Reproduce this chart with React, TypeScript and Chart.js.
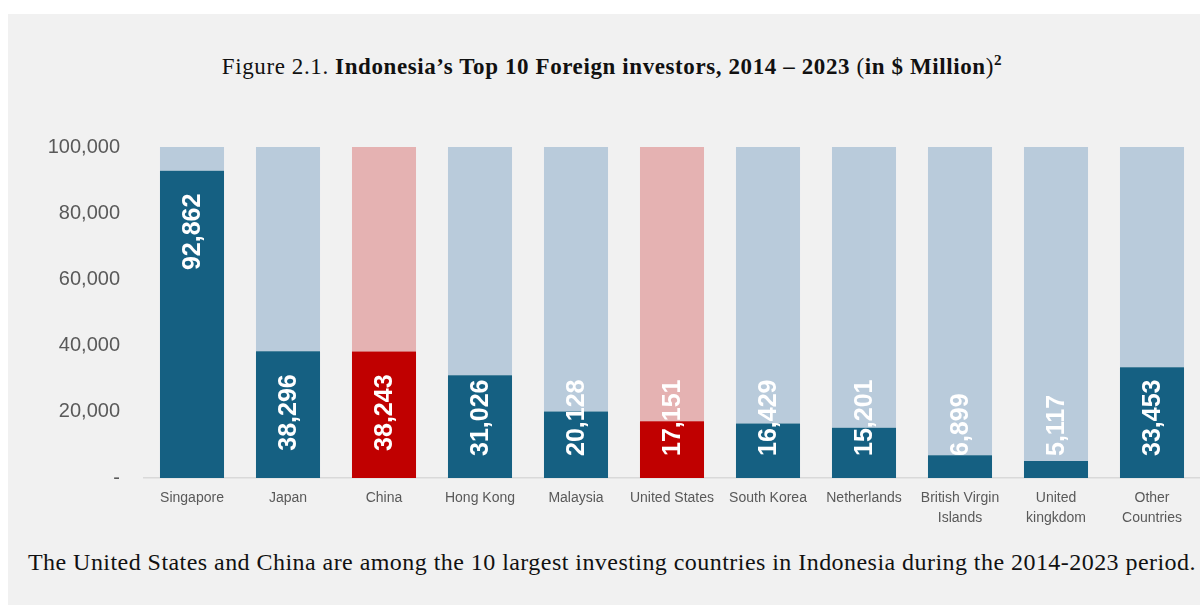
import React, { useEffect, useRef } from "react";
import { Chart, registerables } from "chart.js";

Chart.register(...registerables);

const categories: (string | string[])[] = [
  "Singapore",
  "Japan",
  "China",
  "Hong Kong",
  "Malaysia",
  "United States",
  "South Korea",
  "Netherlands",
  ["British Virgin", "Islands"],
  ["United", "kingkdom"],
  ["Other", "Countries"],
];
const values: number[] = [92862, 38296, 38243, 31026, 20128, 17151, 16429, 15201, 6899, 5117, 33453];
const highlighted: boolean[] = [false, false, true, false, false, true, false, false, false, false, false];
const axisMax = 100000;
const yTicks: number[] = [0, 20000, 40000, 60000, 80000, 100000];

const DARK_BLUE = "#156082";
const LIGHT_BLUE = "#b9cbdb";
const DARK_RED = "#c00000";
const LIGHT_RED = "#e5b2b2";

const labelPlugin = {
  id: "valueLabels",
  afterDatasetsDraw(chart: any) {
    const meta = chart.getDatasetMeta(0);
    const ctx = chart.ctx;
    ctx.save();
    ctx.font = "bold 25px 'Liberation Sans', Arial, sans-serif";
    ctx.fillStyle = "#ffffff";
    ctx.textBaseline = "middle";
    ctx.textAlign = "left";
    meta.data.forEach((bar: any, i: number) => {
      const text = values[i].toLocaleString("en-US");
      const w = ctx.measureText(text).width;
      const base = bar.base;
      let bottom = bar.y + 23 + w;
      if (bottom > base - 22) bottom = base - 22;
      ctx.save();
      ctx.translate(bar.x + 1, bottom);
      ctx.rotate(-Math.PI / 2);
      ctx.fillText(text, 0, 0);
      ctx.restore();
    });
    ctx.restore();
  },
};

export default function App() {
  const ref = useRef<HTMLCanvasElement | null>(null);

  useEffect(() => {
    if (!ref.current) return;
    const chart = new Chart(ref.current, {
      type: "bar",
      data: {
        labels: categories,
        datasets: [
          {
            label: "Investment",
            data: values,
            backgroundColor: values.map((_, i) => (highlighted[i] ? DARK_RED : DARK_BLUE)),
            borderWidth: 0,
            barPercentage: 0.667,
            categoryPercentage: 1,
          },
          {
            label: "Remainder",
            data: values.map((v) => axisMax - v),
            backgroundColor: values.map((_, i) => (highlighted[i] ? LIGHT_RED : LIGHT_BLUE)),
            borderWidth: 0,
            barPercentage: 0.667,
            categoryPercentage: 1,
          },
        ],
      },
      options: {
        animation: false,
        responsive: true,
        maintainAspectRatio: false,
        layout: { padding: { top: 47, right: 0, left: 0, bottom: 0 } },
        plugins: {
          legend: { display: false },
          tooltip: { enabled: false },
          title: { display: false },
        },
        scales: {
          x: {
            stacked: true,
            grid: { display: false, drawTicks: false },
            border: { display: true, color: "#d9d9d9", width: 1.5 },
            ticks: {
              color: "#595959",
              font: { family: "'Liberation Sans', Arial, sans-serif", size: 14, lineHeight: 1.43 },
              padding: 10,
              maxRotation: 0,
              autoSkip: false,
            },
            afterFit(scale: any) {
              scale.height = 62;
            },
          },
          y: {
            stacked: true,
            min: 0,
            max: axisMax,
            grid: { display: false, drawTicks: false },
            border: { display: false },
            afterBuildTicks(scale: any) {
              scale.ticks = yTicks.map((v) => ({ value: v }));
            },
            ticks: {
              color: "#595959",
              font: { family: "'Liberation Sans', Arial, sans-serif", size: 20 },
              padding: 24,
              callback: (v: any) => (Number(v) === 0 ? "-" : Number(v).toLocaleString("en-US")),
            },
            afterFit(scale: any) {
              scale.width = 136;
            },
          },
        },
      },
      plugins: [labelPlugin],
    });
    return () => chart.destroy();
  }, []);

  return (
    <div
      style={{
        position: "absolute",
        left: 8,
        top: 14,
        width: 1192,
        height: 591,
        background: "#f1f1f1",
        overflow: "hidden",
      }}
    >
      <div
        style={{
          position: "absolute",
          top: 40,
          left: 8,
          width: 1192,
          textAlign: "center",
          fontFamily: "'Liberation Serif', 'Times New Roman', serif",
          fontSize: 23,
          letterSpacing: "0.6px",
          lineHeight: "26px",
          color: "#111",
          whiteSpace: "nowrap",
        }}
      >
        Figure 2.1. <b>Indonesia’s Top 10 Foreign investors, 2014 – 2023 </b>(<b>in $ Million</b>)
        <b style={{ verticalAlign: "super", fontSize: "0.66em", lineHeight: 0 }}>2</b>
      </div>
      <div style={{ position: "absolute", top: 86, left: 0, width: 1192, height: 440 }}>
        <canvas ref={ref} />
      </div>
      <div
        style={{
          position: "absolute",
          top: 534,
          left: 20,
          fontFamily: "'Liberation Serif', 'Times New Roman', serif",
          fontSize: 24,
          letterSpacing: "0.45px",
          lineHeight: "28px",
          color: "#111",
          whiteSpace: "nowrap",
        }}
      >
        The United States and China are among the 10 largest investing countries in Indonesia during the 2014-2023 period.
      </div>
    </div>
  );
}
